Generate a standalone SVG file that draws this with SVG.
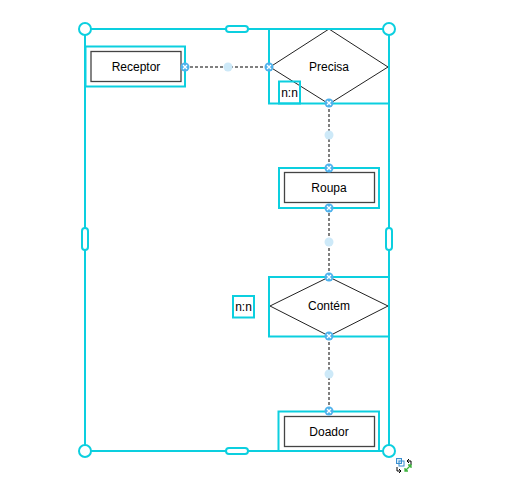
<svg xmlns="http://www.w3.org/2000/svg" width="513" height="496" viewBox="0 0 513 496">
<defs>
<style>
.sel{fill:none;stroke:#0ccfdf;stroke-width:2}
.box{fill:#fff;stroke:#444;stroke-width:1.3}
.dia{fill:#fff;stroke:#222;stroke-width:1}
.t{font-family:"Liberation Sans",Arial,sans-serif;font-size:12px;fill:#000;text-anchor:middle;dominant-baseline:central}
.con{fill:none;stroke:#000;stroke-width:1;stroke-dasharray:3 2}
.h{fill:#fff;stroke:#0ccfdf;stroke-width:2}
.mid{fill:#cde9f8}
</style>
<g id="cp">
<circle r="4.5" fill="#4fb2ec"/>
<path d="M-2,-2L2,2M2,-2L-2,2" stroke="#fff" stroke-width="1.3"/>
</g>
</defs>
<rect width="513" height="496" fill="#fff"/>

<g id="Receptor">
<rect class="box" x="91" y="51.5" width="90" height="30"/>
<text class="t" x="136" y="67">Receptor</text>
<rect class="sel" x="85.5" y="46.5" width="99.5" height="40"/>
</g>

<g id="Precisa">
<polygon class="dia" points="270,67 329,29 388,67 329,104"/>
<text class="t" x="329" y="67">Precisa</text>
<rect class="sel" x="269" y="29" width="120" height="74.5"/>
<rect class="sel" x="279" y="81.5" width="21" height="22"/>
<text class="t" x="289.5" y="93">n:n</text>
</g>

<g id="Roupa">
<rect class="box" x="284.5" y="172.5" width="90" height="30"/>
<text class="t" x="329" y="188">Roupa</text>
<rect class="sel" x="279" y="168" width="100" height="40"/>
</g>

<g id="Contem">
<polygon class="dia" points="270,306 329,277 388,306 329,336"/>
<text class="t" x="329" y="306">Contém</text>
<rect class="sel" x="269" y="277" width="120" height="59.5"/>
</g>

<g id="nn2">
<rect class="sel" x="233" y="296" width="21" height="21.5"/>
<text class="t" x="243.5" y="307">n:n</text>
</g>

<g id="Doador">
<rect class="box" x="284.5" y="416.5" width="90" height="30"/>
<text class="t" x="329" y="432">Doador</text>
<rect class="sel" x="278.5" y="411.5" width="100.5" height="39.5"/>
</g>

<g id="connectors">
<line class="con" x1="185" y1="67" x2="269" y2="67"/>
<line class="con" x1="329" y1="104" x2="329" y2="168"/>
<line class="con" x1="329" y1="208" x2="329" y2="277"/>
<line class="con" x1="329" y1="337" x2="329" y2="411"/>
<circle class="mid" cx="228" cy="67" r="4.5"/>
<circle class="mid" cx="329" cy="135" r="4.5"/>
<circle class="mid" cx="329" cy="242" r="4.5"/>
<circle class="mid" cx="329" cy="374" r="4.5"/>
<use href="#cp" x="185" y="67"/>
<use href="#cp" x="269" y="67"/>
<use href="#cp" x="329" y="103"/>
<use href="#cp" x="329" y="168"/>
<use href="#cp" x="329" y="208"/>
<use href="#cp" x="329" y="277"/>
<use href="#cp" x="329" y="336"/>
<use href="#cp" x="329" y="411"/>
</g>

<g id="selection">
<rect class="sel" x="85" y="29" width="304" height="422"/>
<rect class="h" x="226" y="26" width="22" height="6" rx="3"/>
<rect class="h" x="226" y="448" width="22" height="6" rx="3"/>
<rect class="h" x="82" y="228" width="6" height="22" rx="3"/>
<rect class="h" x="386" y="228" width="6" height="22" rx="3"/>
<circle class="h" cx="85" cy="29" r="6"/>
<circle class="h" cx="389" cy="29" r="6"/>
<circle class="h" cx="85" cy="451" r="6"/>
<circle class="h" cx="389" cy="451" r="6"/>
<g id="icons">
<rect x="396.5" y="458.5" width="5" height="5" fill="#d8ebf8" stroke="#3a8fd0" stroke-width="1"/>
<rect x="399" y="461" width="5" height="5" fill="none" stroke="#3a8fd0" stroke-width="1"/>
<path d="M407,461h4v4M409,459l-2,2l2,2" fill="none" stroke="#000" stroke-width="1"/>
<path d="M397,467v4h4M399,469l2,2l-2,2" fill="none" stroke="#000" stroke-width="1"/>
<path d="M405,471l6,-6M405,468v3h3M411,468v-3h-3" fill="none" stroke="#3cb43c" stroke-width="1.3"/>
</g>
</g>
</svg>
